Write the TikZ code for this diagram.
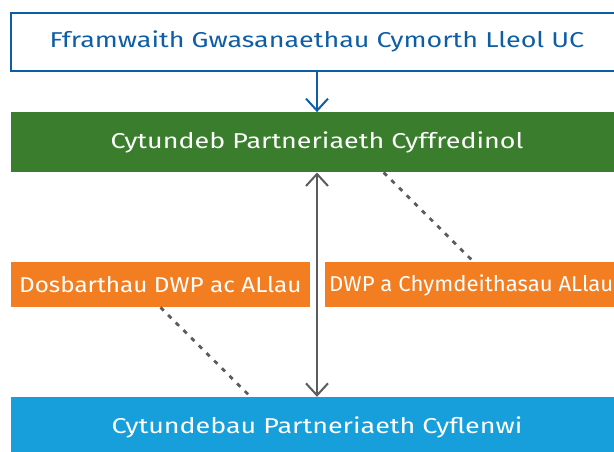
\documentclass[tikz,border=0pt]{standalone}
\usepackage{fontspec}
\setmainfont{Fira Sans}
\newfontfamily\fwide[FakeStretch=1.25]{Fira Sans}
\newfontfamily\fleft[FakeStretch=1.13]{Fira Sans}
\newfontfamily\fright[FakeStretch=1.03]{Fira Sans}
\usetikzlibrary{arrows.meta}
\definecolor{dblue}{HTML}{0E5EA6}
\definecolor{bgreen}{HTML}{3A7D2C}
\definecolor{borange}{HTML}{F37E22}
\definecolor{lblue}{HTML}{169FDA}
\definecolor{agray}{HTML}{5C5C5C}
\tikzset{
  box/.style={rectangle, inner sep=0pt, minimum width=612pt, font=\fwide\fontsize{21.5}{26}\selectfont},
  obox/.style={rectangle, inner sep=0pt, fill=borange, text=white, minimum height=45pt, font=\fleft\fontsize{21.5}{26}\selectfont},
  barbtip/.tip={Straight Barb[length=12pt,width=22pt,line width=2pt]},
  dline/.style={agray, line width=2.8pt, dash pattern=on 4.5pt off 6.3pt},
}
\begin{document}
\begin{tikzpicture}[x=1pt,y=-1pt]
\useasboundingbox (0,0) rectangle (614,451);
\clip (0,0) rectangle (614,451);
\node[box, draw=dblue, line width=2pt, text=dblue, minimum height=58pt] (top) at (317,41.5) {Fframwaith Gwasanaethau Cymorth Lleol UC};
\node[box, fill=bgreen, text=white, minimum height=60pt] (gen) at (317,142.3) {Cytundeb Partneriaeth Cyffredinol};
\node[obox, minimum width=298.7pt] (orL) at (160.35,284.7) {Dosbarthau DWP ac ALlau};
\node[obox, minimum width=298pt, anchor=west] (orR) at (325,284.7) {};
\node[anchor=west, inner sep=0pt, text=white, font=\fright\fontsize{21.5}{26}\selectfont] (orRt) at (329,285) {DWP a Chymdeithasau ALlau};
\node[box, fill=lblue, text=white, minimum height=60pt] (del) at (317,427) {Cytundebau Partneriaeth Cyflenwi};
\draw[dblue, line width=2pt, -barbtip] (top.south) -- (gen.north);
\draw[agray, line width=2pt, barbtip-barbtip] (gen.south) -- (del.north);
\coordinate (a1) at (383.7,0);
\coordinate (a2) at (473.8,0);
\coordinate (b1) at (160.5,0);
\coordinate (b2) at (250.6,0);
\draw[dline] (gen.south -| a1) -- (orR.north -| a2);
\draw[dline] (orL.south -| b1) -- (del.north -| b2);
\end{tikzpicture}
\end{document}
